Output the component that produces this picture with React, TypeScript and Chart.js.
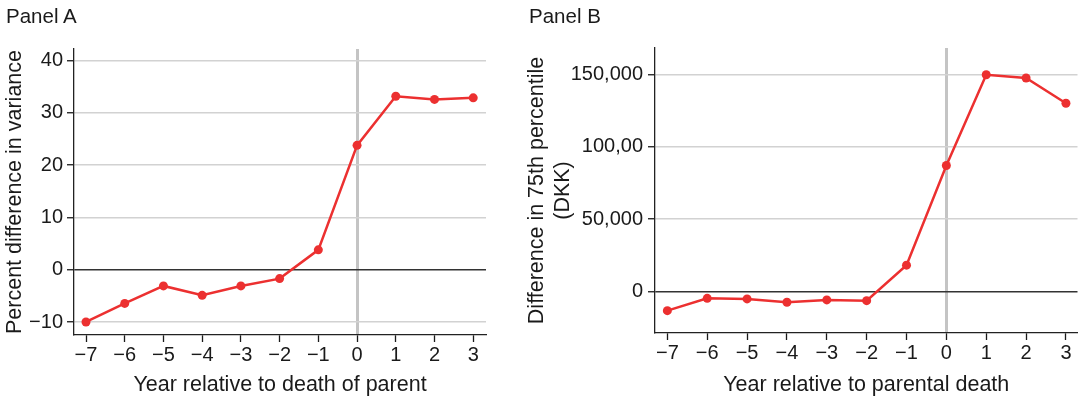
import React, { useEffect, useRef } from "react";
import { Chart, registerables } from "chart.js";

Chart.register(...registerables);

// ---- Data ----
const years = [-7, -6, -5, -4, -3, -2, -1, 0, 1, 2, 3];
const varianceDiff = [-10.0, -6.45, -3.1, -4.9, -3.1, -1.7, 3.8, 23.8, 33.2, 32.6, 32.9];
const p75Diff = [-13100, -4600, -5000, -7300, -5700, -6200, 18300, 87100, 149800, 147500, 130100];

const xTicks = [-7, -6, -5, -4, -3, -2, -1, 0, 1, 2, 3];
const yTicksA = [-10, 0, 10, 20, 30, 40];
const yTicksB = [0, 50000, 100000, 150000];
const yTickLabelsB = ["0", "50,000", "100,00", "150,000"];

const titleA = "Panel A";
const titleB = "Panel B";
const xTitleA = "Year relative to death of parent";
const xTitleB = "Year relative to parental death";
const yTitleA = "Percent difference in variance";
const yTitleB = ["Difference in 75th percentile", "(DKK)"];

const FONT = '"Liberation Sans", Arial, Helvetica, sans-serif';
const RED = "#ec3030";
const INK = "#1a1a1a";

const minusFmt = (v: number) => (v < 0 ? "\u2212" + Math.abs(v) : String(v));

function makeConfig(opts: {
  values: number[];
  xMin: number;
  xMax: number;
  yMin: number;
  yMax: number;
  yTicks: number[];
  yLabel: (v: number) => string;
  yAxisWidth: number;
  xAxisHeight: number;
  padding: any;
  xTitle: string;
  yTitle: string | string[];
  yTitlePadTop: number;
  yLabelPad: number;
}): any {
  return {
    type: "line",
    data: {
      datasets: [
        {
          data: years.map((x, i) => ({ x, y: opts.values[i] })),
          borderColor: RED,
          backgroundColor: RED,
          pointBackgroundColor: RED,
          pointBorderWidth: 0,
          pointRadius: 4.5,
          borderWidth: 2.5,
          tension: 0,
          fill: false,
        },
      ],
    },
    options: {
      responsive: false,
      animation: false,
      devicePixelRatio: 1,
      layout: { padding: opts.padding },
      plugins: {
        legend: { display: false },
        title: { display: false },
        tooltip: { enabled: false },
      },
      scales: {
        x: {
          type: "linear",
          min: opts.xMin,
          max: opts.xMax,
          afterBuildTicks: (scale: any) => {
            scale.ticks = xTicks.map((v) => ({ value: v }));
          },
          afterFit: (scale: any) => {
            scale.height = opts.xAxisHeight;
          },
          ticks: {
            autoSkip: false,
            maxRotation: 0,
            padding: 1,
            color: INK,
            font: { family: FONT, size: 20 },
            callback: (v: number) => minusFmt(v),
          },
          grid: {
            color: (ctx: any) =>
              ctx.tick && ctx.tick.value === 0 ? "#c4c4c4" : "rgba(0,0,0,0)",
            lineWidth: (ctx: any) => (ctx.tick && ctx.tick.value === 0 ? 3 : 1),
            tickColor: INK,
            tickWidth: 1.3,
            tickLength: 7,
            drawTicks: true,
          },
          border: { display: true, color: "#222", width: 1.3 },
          title: {
            display: true,
            text: opts.xTitle,
            color: INK,
            font: { family: FONT, size: 21.5, lineHeight: 1.2 },
            padding: { top: 0, bottom: 3 },
          },
        },
        y: {
          type: "linear",
          min: opts.yMin,
          max: opts.yMax,
          afterBuildTicks: (scale: any) => {
            scale.ticks = opts.yTicks.map((v) => ({ value: v }));
          },
          afterFit: (scale: any) => {
            scale.width = opts.yAxisWidth;
          },
          ticks: {
            autoSkip: false,
            padding: opts.yLabelPad,
            color: INK,
            font: { family: FONT, size: 20 },
            callback: (v: number) => opts.yLabel(v),
          },
          grid: {
            color: (ctx: any) =>
              ctx.tick && ctx.tick.value === 0 ? "#333333" : "#d2d2d2",
            lineWidth: 1.5,
            tickColor: INK,
            tickWidth: 1.3,
            tickLength: 7,
            drawTicks: true,
          },
          border: { display: true, color: "#222", width: 1.3 },
          title: {
            display: true,
            text: opts.yTitle,
            color: INK,
            font: { family: FONT, size: 21.5, lineHeight: 1.2 },
            padding: { top: opts.yTitlePadTop, bottom: 0 },
          },
        },
      },
    },
  };
}

export default function App() {
  const refA = useRef<HTMLCanvasElement>(null);
  const refB = useRef<HTMLCanvasElement>(null);

  useEffect(() => {
    const chartA = new Chart(
      refA.current as HTMLCanvasElement,
      makeConfig({
        values: varianceDiff,
        xMin: -7.31,
        xMax: 3.33,
        yMin: -12.49,
        yMax: 42.24,
        yTicks: yTicksA,
        yLabel: (v) => minusFmt(v),
        yAxisWidth: 74,
        xAxisHeight: 66,
        padding: { top: 49, right: 14, left: 0, bottom: 0 },
        xTitle: xTitleA,
        yTitle: yTitleA,
        yTitlePadTop: 2.5,
        yLabelPad: 4,
      })
    );
    const chartB = new Chart(
      refB.current as HTMLCanvasElement,
      makeConfig({
        values: p75Diff,
        xMin: -7.31,
        xMax: 3.29,
        yMin: -28550,
        yMax: 168250,
        yTicks: yTicksB,
        yLabel: (v) => yTickLabelsB[yTicksB.indexOf(v)] ?? String(v),
        yAxisWidth: 155,
        xAxisHeight: 68,
        padding: { top: 48, right: 3, left: 0, bottom: 0 },
        xTitle: xTitleB,
        yTitle: yTitleB,
        yTitlePadTop: 24,
        yLabelPad: 5,
      })
    );
    return () => {
      chartA.destroy();
      chartB.destroy();
    };
  }, []);

  const panelTitle: React.CSSProperties = {
    position: "absolute",
    top: 6,
    fontFamily: FONT,
    fontSize: 20.5,
    lineHeight: 1,
    color: INK,
    whiteSpace: "nowrap",
  };

  return (
    <div
      style={{
        position: "fixed",
        left: 0,
        top: 0,
        width: 1082,
        height: 401,
        background: "#ffffff",
        overflow: "hidden",
      }}
    >
      <canvas
        ref={refA}
        width={500}
        height={401}
        style={{ position: "absolute", left: 0, top: 0, width: 500, height: 401 }}
      />
      <canvas
        ref={refB}
        width={582}
        height={401}
        style={{ position: "absolute", left: 500, top: 0, width: 582, height: 401 }}
      />
      <div style={{ ...panelTitle, left: 6 }}>{titleA}</div>
      <div style={{ ...panelTitle, left: 529 }}>{titleB}</div>
    </div>
  );
}
